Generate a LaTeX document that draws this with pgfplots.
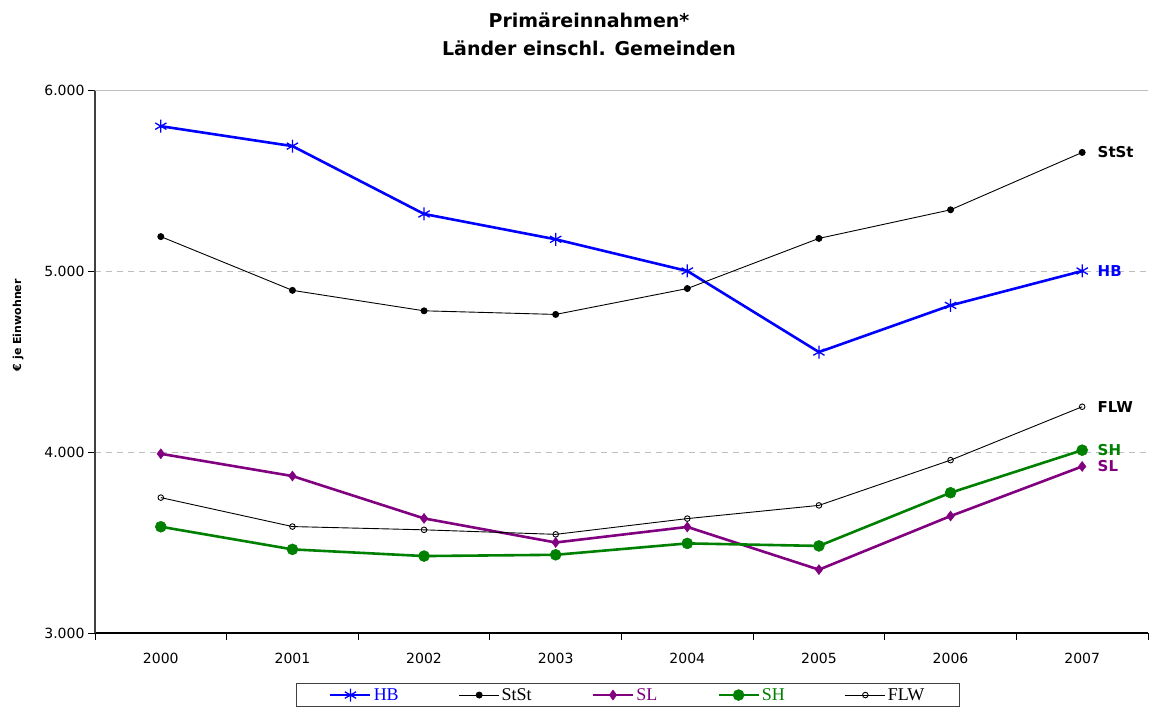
\documentclass[border=0pt]{standalone}
\usepackage{fontspec}
\setmainfont{DejaVu Sans}
\newfontfamily\legendfont{Liberation Serif}
\usepackage{pgfplots}
\pgfplotsset{compat=1.18}
\definecolor{hbblue}{RGB}{0,0,255}
\definecolor{slpurple}{RGB}{128,0,128}
\definecolor{shgreen}{RGB}{0,128,0}
\definecolor{axgray}{RGB}{64,64,64}
\definecolor{gridgray}{RGB}{190,190,190}
\begin{document}
\begin{tikzpicture}
\path[use as bounding box] (0,0) rectangle (1149pt,708pt);
\node[anchor=base, font=\fontsize{19}{21}\selectfont\bfseries] at (589pt,680pt) {Primäreinnahmen*};
\node[anchor=base, font=\fontsize{19}{21}\selectfont\bfseries] at (589pt,652pt) {Länder einschl. Gemeinden};
\begin{axis}[
  at={(95pt,75pt)}, anchor=south west,
  scale only axis, width=1053pt, height=543pt,
  xmin=-0.5, xmax=7.5, ymin=3000, ymax=6000,
  axis lines=left,
  axis line style={-},
  x axis line style={black, line width=1.3pt},
  y axis line style={axgray, line width=2pt},
  tick align=outside, major tick length=7pt,
  tick style={black, line width=0.8pt},
  ytick={3000,4000,5000,6000},
  ymajorgrids, y grid style={gridgray, line width=0.8pt, dash pattern=on 6pt off 5pt},
  xtick={-0.5,0.5,...,7.5}, xticklabels={},
  extra x ticks={0,1,2,3,4,5,6,7},
  extra x tick labels={2000,2001,2002,2003,2004,2005,2006,2007},
  extra x tick style={major tick length=0pt},
  /pgf/number format/assume math mode=true,
  /pgf/number format/1000 sep={.},
  tick label style={font=\fontsize{14}{16}\selectfont},
  xticklabel style={yshift=-17pt},
  ylabel={€ je Einwohner},
  every axis y label/.style={at={(axis description cs:-0.073,0.567)}, rotate=90, anchor=center, font=\fontsize{11}{13}\selectfont\bfseries},
  legend columns=5,
  legend style={at={(axis description cs:0.506,-0.092)}, anchor=north,
    draw=axgray, line width=0.8pt, font=\legendfont\fontsize{18}{20}\selectfont,
    inner xsep=33pt, inner ysep=3pt,
    /tikz/every even column/.append style={column sep=58pt}},
  legend image code/.code={\draw[mark repeat=2,mark phase=2,#1] plot coordinates {(0pt,0pt) (20pt,0pt) (40pt,0pt)};},
]
\draw[gridgray, line width=0.8pt] (rel axis cs:0,1) -- (rel axis cs:1,1);
\addplot[hbblue, line width=2.6pt, mark=asterisk, mark size=6.5pt, mark options={line width=1.3pt}]
  coordinates {(0,5800) (1,5690) (2,5315) (3,5175) (4,5000) (5,4552) (6,4810) (7,5000)};
\addlegendentry{\textcolor{hbblue}{HB}}
\addplot[black, line width=0.9pt, mark=*, mark size=3pt]
  coordinates {(0,5190) (1,4893) (2,4780) (3,4760) (4,4903) (5,5180) (6,5338) (7,5655)};
\addlegendentry{StSt}
\addplot[slpurple, line width=2.6pt, mark=diamond*, mark size=5pt, mark options={line width=0.5pt}]
  coordinates {(0,3990) (1,3867) (2,3633) (3,3500) (4,3586) (5,3350) (6,3646) (7,3920)};
\addlegendentry{\textcolor{slpurple}{SL}}
\addplot[shgreen, line width=2.6pt, mark=*, mark size=5.5pt, mark options={line width=0.5pt}]
  coordinates {(0,3587) (1,3462) (2,3425) (3,3432) (4,3495) (5,3481) (6,3775) (7,4010)};
\addlegendentry{\textcolor{shgreen}{SH}}
\addplot[black, line width=0.9pt, mark=o, mark size=2.8pt, mark options={fill=white}]
  coordinates {(0,3748) (1,3588) (2,3570) (3,3545) (4,3632) (5,3705) (6,3955) (7,4250)};
\addlegendentry{FLW}
\node[anchor=west, xshift=12pt, font=\fontsize{15}{17}\selectfont\bfseries, text=black] at (axis cs:7,5655) {StSt};
\node[anchor=west, xshift=12pt, font=\fontsize{15}{17}\selectfont\bfseries, text=hbblue] at (axis cs:7,5000) {HB};
\node[anchor=west, xshift=12pt, font=\fontsize{15}{17}\selectfont\bfseries, text=black] at (axis cs:7,4250) {FLW};
\node[anchor=west, xshift=12pt, font=\fontsize{15}{17}\selectfont\bfseries, text=shgreen] at (axis cs:7,4010) {SH};
\node[anchor=west, xshift=12pt, font=\fontsize{15}{17}\selectfont\bfseries, text=slpurple] at (axis cs:7,3920) {SL};
\end{axis}
\end{tikzpicture}
\end{document}
